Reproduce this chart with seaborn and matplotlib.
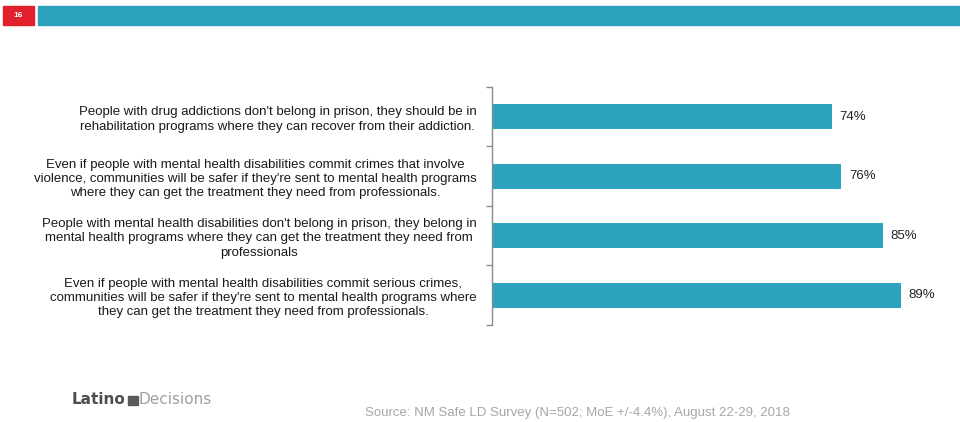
import matplotlib
matplotlib.use("Agg")
import matplotlib.pyplot as plt
import matplotlib.patches as mpatches
import seaborn as sns
import pandas as pd

statements = [
    "People with drug addictions don't belong in prison, they should be in\n"
    "rehabilitation programs where they can recover from their addiction.",
    "Even if people with mental health disabilities commit crimes that involve\n"
    "violence, communities will be safer if they're sent to mental health programs\n"
    "where they can get the treatment they need from professionals.",
    "People with mental health disabilities don't belong in prison, they belong in\n"
    "mental health programs where they can get the treatment they need from\n"
    "professionals",
    "Even if people with mental health disabilities commit serious crimes,\n"
    "communities will be safer if they're sent to mental health programs where\n"
    "they can get the treatment they need from professionals.",
]
agree_pct = [74, 76, 85, 89]
page_number = "16"
source_note = "Source: NM Safe LD Survey (N=502; MoE +/-4.4%), August 22-29, 2018"

TEAL = "#2CA2BF"
RED = "#E0202B"

sns.set_theme(style="white")
plt.rcParams["font.family"] = ["Liberation Sans", "DejaVu Sans"]

df = pd.DataFrame({"statement": statements, "pct": agree_pct})

fig = plt.figure(figsize=(9.6, 4.22), dpi=100)
ax = fig.add_axes([0.5125, 0.2299, 0.479, 0.5640])

sns.barplot(data=df, y="statement", x="pct", orient="h", color=TEAL,
            saturation=1, width=0.42, ax=ax, edgecolor="none")

ax.set_xlim(0, 100)
ax.set_ylim(len(statements) - 0.5, -0.5)
ax.set_xlabel("")
ax.set_ylabel("")
ax.set_xticks([])

# category labels centred on bars, tick marks at category boundaries
ax.set_yticks(range(len(statements)))
ax.set_yticklabels(statements, fontsize=9.5, color="#1a1a1a", linespacing=1.27,
                   multialignment="center")
ax.tick_params(axis="y", which="major", length=0, pad=11)
ax.set_yticks([i - 0.5 for i in range(len(statements) + 1)], minor=True)
ax.tick_params(axis="y", which="minor", length=4, width=1, color="#8c8c8c",
               direction="out", left=True)

for side in ["top", "right", "bottom"]:
    ax.spines[side].set_visible(False)
ax.spines["left"].set_color("#8c8c8c")
ax.spines["left"].set_linewidth(1)

for i, v in enumerate(agree_pct):
    ax.text(v + 1.6, i, f"{v}%", va="center", ha="left", fontsize=9.5,
            color="#222222")

# header band with page number
fig.patches.append(mpatches.Rectangle((3 / 960, 1 - 25 / 422), 31 / 960, 19 / 422,
                                      transform=fig.transFigure, color=RED,
                                      zorder=0))
fig.patches.append(mpatches.Rectangle((38 / 960, 1 - 25 / 422), 922 / 960, 19 / 422,
                                      transform=fig.transFigure, color=TEAL,
                                      zorder=0))
fig.text(18.5 / 960, 1 - 15.5 / 422, page_number, color="white", fontsize=6,
         fontweight="bold", ha="center", va="center")

# logo
fig.text(72 / 960, 1 - 400 / 422, "Latino", color="#4d4d4d", fontsize=11,
         fontweight="bold", ha="left", va="center", family="DejaVu Sans")
fig.patches.append(mpatches.Rectangle((128 / 960, 1 - 405 / 422), 10 / 960, 9 / 422,
                                      transform=fig.transFigure, color="#5a5a5a"))
fig.text(139 / 960, 1 - 400 / 422, "Decisions", color="#a0a0a0", fontsize=11,
         ha="left", va="center", family="DejaVu Sans")

fig.text(365 / 960, 1 - 413 / 422, source_note, color="#a6a6a6", fontsize=9.5,
         ha="left", va="center")

fig.savefig("out.png", dpi=100)
